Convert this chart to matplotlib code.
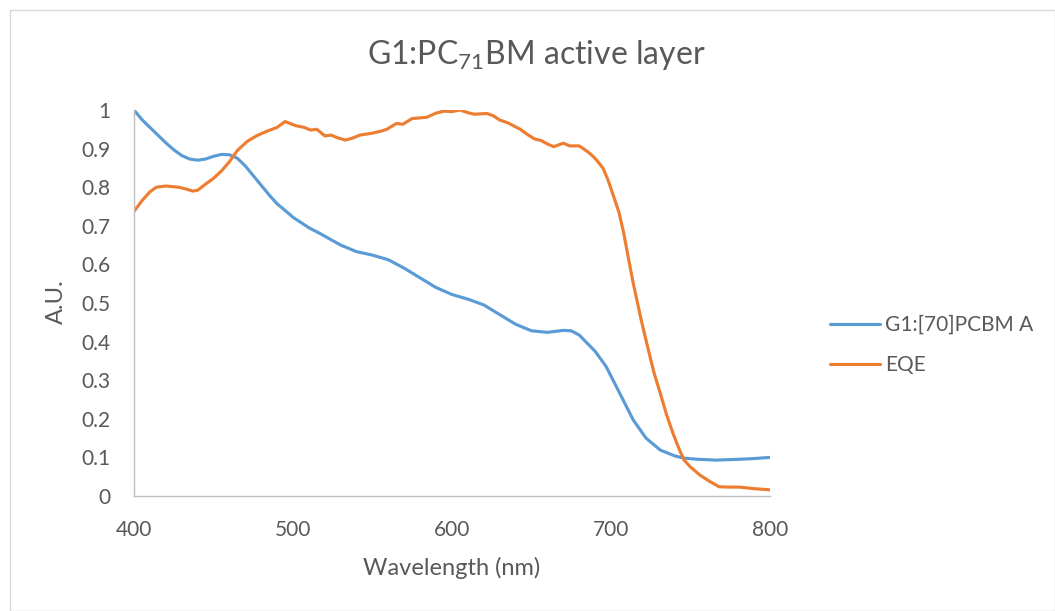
import matplotlib
matplotlib.use("Agg")
import matplotlib.pyplot as plt
from matplotlib.patches import Rectangle

abs_wl = [400, 405, 410, 415, 420, 425, 430, 435, 440, 445, 450, 455, 460, 465, 470, 475, 480, 485, 490, 495,
          500, 510, 517, 530, 540, 550, 560, 570, 580, 590, 600, 610, 620, 630, 640, 650, 660, 670, 675, 680,
          690, 697, 705, 714, 722, 731, 740, 746, 755, 766, 780, 790, 800]
abs_val = [1.0, 0.975, 0.955, 0.935, 0.915, 0.897, 0.882, 0.873, 0.870, 0.873, 0.880, 0.885, 0.884, 0.875, 0.855,
           0.830, 0.805, 0.780, 0.757, 0.740, 0.722, 0.695, 0.680, 0.650, 0.633, 0.624, 0.612, 0.590, 0.565, 0.540,
           0.522, 0.510, 0.495, 0.470, 0.445, 0.428, 0.424, 0.429, 0.428, 0.417, 0.375, 0.335, 0.270, 0.197, 0.150,
           0.119, 0.104, 0.098, 0.095, 0.093, 0.095, 0.097, 0.100]

eqe_wl = [400, 405, 410, 414, 420, 428, 433, 437, 440, 445, 450, 455, 460, 465, 471, 477, 483, 490, 495, 502,
          507, 511, 515, 520, 524, 528, 533, 538, 542, 550, 556, 559, 565, 569, 575, 584, 590, 595, 600, 605,
          610, 614, 622, 626, 630, 635, 643, 648, 652, 656, 660, 664, 670, 674, 680, 685, 689, 692, 695, 698,
          701, 705, 708, 711, 714, 719, 723, 727, 731, 735, 739, 743, 746, 750, 756, 762, 768, 775, 781, 790, 800]
eqe_val = [0.737, 0.765, 0.788, 0.800, 0.803, 0.800, 0.795, 0.790, 0.792, 0.808, 0.823, 0.842, 0.866, 0.895, 0.918,
           0.933, 0.944, 0.955, 0.970, 0.959, 0.955, 0.948, 0.950, 0.933, 0.935, 0.928, 0.922, 0.928, 0.935, 0.940,
           0.946, 0.950, 0.965, 0.963, 0.978, 0.981, 0.992, 0.997, 0.996, 1.000, 0.993, 0.989, 0.991, 0.985, 0.974,
           0.967, 0.950, 0.935, 0.925, 0.921, 0.912, 0.905, 0.914, 0.907, 0.907, 0.893, 0.879, 0.865, 0.849, 0.820,
           0.784, 0.735, 0.681, 0.615, 0.551, 0.456, 0.387, 0.320, 0.266, 0.210, 0.162, 0.120, 0.093, 0.075, 0.054,
           0.038, 0.024, 0.023, 0.023, 0.019, 0.016]

series_labels = ["G1:[70]PCBM A", "EQE"]
x_ticks = [400, 500, 600, 700, 800]
y_ticks = [0, 0.1, 0.2, 0.3, 0.4, 0.5, 0.6, 0.7, 0.8, 0.9, 1.0]
y_tick_labels = ["0", "0.1", "0.2", "0.3", "0.4", "0.5", "0.6", "0.7", "0.8", "0.9", "1"]

plt.rcParams['font.family'] = ['Lato', 'DejaVu Sans']
plt.rcParams['mathtext.fontset'] = 'custom'
plt.rcParams['mathtext.rm'] = 'Lato'
plt.rcParams['mathtext.it'] = 'Lato:italic'
plt.rcParams['mathtext.default'] = 'rm'
text_color = "#595959"
W, H = 1055, 611

fig = plt.figure(figsize=(W / 100, H / 100), dpi=100)
fig.patches.append(Rectangle((10 / W, 0), 1 - 10 / W, 1 - 10 / H, transform=fig.transFigure,
                             fill=False, edgecolor="#d9d9d9", linewidth=1.0))
ax = fig.add_axes([134 / W, 1 - 496 / H, (770 - 134) / W, (496 - 110) / H])

ax.plot(abs_wl, abs_val, color="#5B9BD5", linewidth=2.25, label=series_labels[0], solid_capstyle="round")
ax.plot(eqe_wl, eqe_val, color="#ED7D31", linewidth=2.25, label=series_labels[1], solid_capstyle="round")

ax.set_xlim(400, 800)
ax.set_ylim(0, 1)
ax.set_xticks(x_ticks)
ax.set_yticks(y_ticks)
ax.set_yticklabels(y_tick_labels)
ax.tick_params(axis="y", length=0, labelsize=15, colors=text_color, pad=17)
ax.tick_params(axis="x", length=0, labelsize=15, colors=text_color, pad=17)
for s in ["top", "right"]:
    ax.spines[s].set_visible(False)
for s in ["left", "bottom"]:
    ax.spines[s].set_color("#bfbfbf")
    ax.spines[s].set_linewidth(1.0)

fig.text(452 / W, 1 - 568 / H, "Wavelength (nm)", fontsize=17, color=text_color, ha="center", va="center")
fig.text(56 / W, 1 - 302 / H, "A.U.", fontsize=17, color=text_color, ha="center", va="center", rotation=90)
fig.text(536 / W, 1 - 55 / H, r"G1:PC$_{\mathrm{71}}$BM active layer", fontsize=23, color=text_color,
         ha="center", va="center")

ax.legend(loc="center left", bbox_to_anchor=(830 / W, 1 - 345 / H), bbox_transform=fig.transFigure,
          frameon=False, fontsize=15, borderpad=0, borderaxespad=0,
          handlelength=2.4, labelspacing=0.95, handletextpad=0.25, labelcolor=text_color)

fig.savefig("out.png", dpi=100)
